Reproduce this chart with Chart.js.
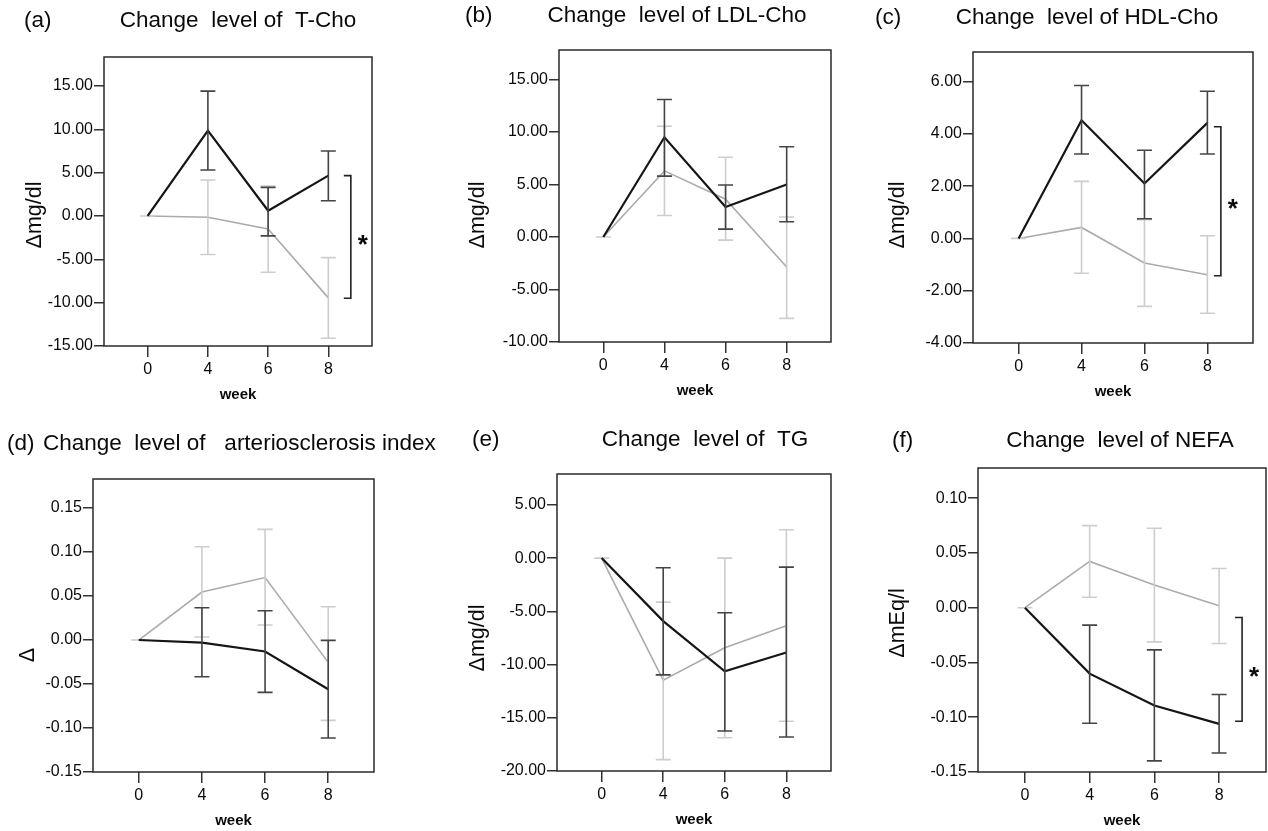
<!DOCTYPE html>
<html>
<head>
<meta charset="utf-8">
<script src="https://cdn.jsdelivr.net/npm/chart.js@4.4.1/dist/chart.umd.min.js"></script>
<style>
  html, body { margin: 0; padding: 0; background: #fff; }
  #wrap { position: relative; width: 1268px; height: 831px; overflow: hidden; background: #fff; }
  #wrap canvas { position: absolute; left: 0; top: 0; }
</style>
</head>
<body>
<div id="wrap"></div>
<script>
// week categories (x axis)
var weeks = ['0', '4', '6', '8'];

// (a) T-Cho
var tchoTicks = [-15, -10, -5, 0, 5, 10, 15];
var tchoBlack = [0, 9.85, 0.6, 4.65];
var tchoBlackHi = [null, 14.4, 3.3, 7.5];
var tchoBlackLo = [null, 5.3, -2.3, 1.75];
var tchoGrey = [0, -0.15, -1.5, -9.45];
var tchoGreyHi = [0, 4.15, 3.45, -4.8];
var tchoGreyLo = [0, -4.45, -6.5, -14.1];
var tchoBracket = [4.65, -9.5];

// (b) LDL-Cho
var ldlTicks = [-10, -5, 0, 5, 10, 15];
var ldlBlack = [0, 9.5, 2.85, 5.0];
var ldlBlackHi = [null, 13.1, 4.95, 8.6];
var ldlBlackLo = [null, 5.8, 0.75, 1.45];
var ldlGrey = [0, 6.3, 3.6, -2.85];
var ldlGreyHi = [0, 10.55, 7.6, 1.9];
var ldlGreyLo = [0, 2.05, -0.3, -7.75];

// (c) HDL-Cho
var hdlTicks = [-4, -2, 0, 2, 4, 6];
var hdlBlack = [0, 4.52, 2.1, 4.42];
var hdlBlackHi = [null, 5.85, 3.37, 5.63];
var hdlBlackLo = [null, 3.23, 0.75, 3.23];
var hdlGrey = [0, 0.42, -0.94, -1.39];
var hdlGreyHi = [0, 2.18, 0.72, 0.1];
var hdlGreyLo = [0, -1.33, -2.6, -2.86];
var hdlBracket = [4.27, -1.43];

// (d) arteriosclerosis index
var aiTicks = [-0.15, -0.10, -0.05, 0, 0.05, 0.10, 0.15];
var aiBlack = [0, -0.003, -0.013, -0.056];
var aiBlackHi = [null, 0.0367, 0.0333, -0.0004];
var aiBlackLo = [null, -0.0417, -0.0595, -0.1114];
var aiGrey = [0, 0.0545, 0.071, -0.0254];
var aiGreyHi = [0, 0.106, 0.1257, 0.0378];
var aiGreyLo = [0, 0.0034, 0.017, -0.0913];

// (e) TG
var tgTicks = [-20, -15, -10, -5, 0, 5];
var tgBlack = [0, -5.92, -10.63, -8.87];
var tgBlackHi = [null, -0.91, -5.14, -0.85];
var tgBlackLo = [null, -10.97, -16.24, -16.8];
var tgGrey = [0, -11.47, -8.43, -6.36];
var tgGreyHi = [0, -4.14, 0.0, 2.66];
var tgGreyLo = [0, -18.93, -16.87, -15.33];

// (f) NEFA
var nefaTicks = [-0.15, -0.10, -0.05, 0, 0.05, 0.10];
var nefaBlack = [0, -0.0602, -0.0893, -0.1061];
var nefaBlackHi = [null, -0.0159, -0.0385, -0.0792];
var nefaBlackLo = [null, -0.1055, -0.1398, -0.1327];
var nefaGrey = [0, 0.0422, 0.0208, 0.0018];
var nefaGreyHi = [0, 0.0749, 0.0725, 0.0358];
var nefaGreyLo = [0, 0.0095, -0.0312, -0.0327];
var nefaBracket = [-0.009, -0.1037];

var FONT = '"Liberation Sans", Arial, Helvetica, sans-serif';
var W = 1268, H = 831;
var YW = 70, XH = 58;

var panels = [
  { tag: '(a)', tagX: 24, title: 'Change  level of  T-Cho', titleX: 238, titleAlign: 'center', titleY: 21,
    box: [104, 57, 372, 346], yMax: 18.34, yMin: -15, ticks: tchoTicks, yTitle: '\u0394mg/dl', yTitleX: 35, yTitleY: 215,
    black: [tchoBlack, tchoBlackHi, tchoBlackLo], grey: [tchoGrey, tchoGreyHi, tchoGreyLo], bracket: tchoBracket, bracketDx: 22.5 },
  { tag: '(b)', tagX: 465, title: 'Change  level of LDL-Cho', titleX: 677, titleAlign: 'center', titleY: 16,
    box: [559, 50, 831, 342], yMax: 17.81, yMin: -10, ticks: ldlTicks, yTitle: '\u0394mg/dl', yTitleX: 478, yTitleY: 215,
    black: [ldlBlack, ldlBlackHi, ldlBlackLo], grey: [ldlGrey, ldlGreyHi, ldlGreyLo] },
  { tag: '(c)', tagX: 875, title: 'Change  level of HDL-Cho', titleX: 1087, titleAlign: 'center', titleY: 18,
    box: [973, 52, 1253, 343], yMax: 7.13, yMin: -4, ticks: hdlTicks, yTitle: '\u0394mg/dl', yTitleX: 898, yTitleY: 215,
    black: [hdlBlack, hdlBlackHi, hdlBlackLo], grey: [hdlGrey, hdlGreyHi, hdlGreyLo], bracket: hdlBracket, bracketDx: 13.5 },
  { tag: '(d)', tagX: 7, title: 'Change  level of   arteriosclerosis index', titleX: 43, titleAlign: 'left', titleY: 444,
    box: [93, 479, 374, 772], yMax: 0.183, yMin: -0.15, ticks: aiTicks, yTitle: '\u0394', yTitleX: 28, yTitleY: 655,
    black: [aiBlack, aiBlackHi, aiBlackLo], grey: [aiGrey, aiGreyHi, aiGreyLo] },
  { tag: '(e)', tagX: 472, title: 'Change  level of  TG', titleX: 705, titleAlign: 'center', titleY: 440,
    box: [557, 474, 831, 771], yMax: 7.9, yMin: -20, ticks: tgTicks, yTitle: '\u0394mg/dl', yTitleX: 478, yTitleY: 638,
    black: [tgBlack, tgBlackHi, tgBlackLo], grey: [tgGrey, tgGreyHi, tgGreyLo] },
  { tag: '(f)', tagX: 892, title: 'Change  level of NEFA', titleX: 1120, titleAlign: 'center', titleY: 441,
    box: [978, 468, 1266, 772], yMax: 0.1275, yMin: -0.15, ticks: nefaTicks, yTitle: '\u0394mEq/l', yTitleX: 898, yTitleY: 623,
    black: [nefaBlack, nefaBlackHi, nefaBlackLo], grey: [nefaGrey, nefaGreyHi, nefaGreyLo], bracket: nefaBracket, bracketDx: 23 }
];

function points(vals) {
  return vals.map(function(v, i) { return { x: i, y: v }; });
}

function makePanel(p) {
  var wrap = document.getElementById('wrap');
  var cv = document.createElement('canvas');
  cv.width = W; cv.height = H;
  cv.style.width = W + 'px'; cv.style.height = H + 'px';
  wrap.appendChild(cv);

  var decor = {
    id: 'decor',
    afterDatasetDraw: function(chart, args) {
      var ds = chart.data.datasets[args.index];
      var ys = chart.scales.y, ctx = chart.ctx;
      ctx.save();
      ctx.strokeStyle = ds.errColor;
      ctx.lineWidth = 1.6;
      ds.errHi.forEach(function(hi, i) {
        var lo = ds.errLo[i];
        if (hi == null || lo == null) return;
        var px = args.meta.data[i].x;
        var ph = ys.getPixelForValue(hi), pl = ys.getPixelForValue(lo);
        ctx.beginPath();
        ctx.moveTo(px, ph); ctx.lineTo(px, pl);
        ctx.moveTo(px - 7.5, ph); ctx.lineTo(px + 7.5, ph);
        ctx.moveTo(px - 7.5, pl); ctx.lineTo(px + 7.5, pl);
        ctx.stroke();
      });
      ctx.restore();
    },
    afterDraw: function(chart) {
      var ctx = chart.ctx, ca = chart.chartArea;
      var xs = chart.scales.x, ys = chart.scales.y;
      ctx.save();
      // plot frame
      ctx.strokeStyle = '#2a2a2a';
      ctx.lineWidth = 1.5;
      ctx.strokeRect(ca.left, ca.top, ca.right - ca.left, ca.bottom - ca.top);

      // panel tag and title
      ctx.fillStyle = '#0a0a0a';
      ctx.font = '22.5px ' + FONT;
      ctx.textBaseline = 'middle';
      ctx.textAlign = 'left';
      ctx.fillText(p.tag, p.tagX, p.titleY);
      ctx.textAlign = p.titleAlign;
      ctx.fillText(p.title, p.titleX, p.titleY);

      // y axis title
      ctx.save();
      ctx.translate(p.yTitleX, p.yTitleY);
      ctx.rotate(-Math.PI / 2);
      ctx.textAlign = 'center';
      ctx.font = '21.5px ' + FONT;
      ctx.fillText(p.yTitle, 0, 0);
      ctx.restore();

      // significance bracket
      if (p.bracket) {
        var bx = xs.getPixelForValue(3) + p.bracketDx;
        var bt = ys.getPixelForValue(p.bracket[0]);
        var bb = ys.getPixelForValue(p.bracket[1]);
        ctx.strokeStyle = '#222';
        ctx.lineWidth = 1.6;
        ctx.beginPath();
        ctx.moveTo(bx - 7, bt); ctx.lineTo(bx, bt); ctx.lineTo(bx, bb); ctx.lineTo(bx - 7, bb);
        ctx.stroke();
        ctx.font = 'bold 26px ' + FONT;
        ctx.textAlign = 'center';
        ctx.textBaseline = 'alphabetic';
        var m = ctx.measureText('*');
        var cy = (bt + bb) / 2 + 3;
        var base = cy + (m.actualBoundingBoxAscent - m.actualBoundingBoxDescent) / 2;
        ctx.fillText('*', bx + 12, base);
      }
      ctx.restore();
    }
  };

  new Chart(cv, {
    type: 'line',
    data: {
      datasets: [
        { data: points(p.black[0]), errHi: p.black[1], errLo: p.black[2], errColor: '#444',
          borderColor: '#151515', borderWidth: 2.2, pointRadius: 0, tension: 0, fill: false },
        { data: points(p.grey[0]), errHi: p.grey[1], errLo: p.grey[2], errColor: '#cdcdcd',
          borderColor: '#ababab', borderWidth: 1.6, pointRadius: 0, tension: 0, fill: false }
      ]
    },
    options: {
      responsive: false,
      animation: false,
      devicePixelRatio: 1,
      events: [],
      layout: {
        padding: { left: p.box[0] - YW, top: p.box[1], right: W - p.box[2], bottom: H - p.box[3] - XH }
      },
      plugins: { legend: { display: false }, tooltip: { enabled: false }, title: { display: false } },
      scales: {
        x: {
          type: 'linear', min: -0.725, max: 3.725,
          afterFit: function(s) { s.height = XH; },
          afterBuildTicks: function(s) { s.ticks = weeks.map(function(w, i) { return { value: i }; }); },
          ticks: { callback: function(v) { return weeks[v]; }, color: '#0a0a0a', padding: 3,
                   font: { family: FONT, size: 16 }, maxRotation: 0, autoSkip: false },
          grid: { drawOnChartArea: false, tickLength: 11, color: '#333', lineWidth: 1.5 },
          border: { display: false },
          title: { display: true, text: 'week', color: '#0a0a0a', padding: { top: 0, bottom: 0 },
                   font: { family: FONT, size: 15, weight: 'bold' } }
        },
        y: {
          type: 'linear', min: p.yMin, max: p.yMax,
          afterFit: function(s) { s.width = YW; },
          afterBuildTicks: function(s) { s.ticks = p.ticks.map(function(v) { return { value: v }; }); },
          ticks: { callback: function(v) { return Number(v).toFixed(2); }, color: '#0a0a0a', padding: 1,
                   font: { family: FONT, size: 16 }, autoSkip: false },
          grid: { drawOnChartArea: false, tickLength: 10, color: '#333', lineWidth: 1.5 },
          border: { display: false }
        }
      }
    },
    plugins: [decor]
  });
}

panels.forEach(makePanel);
</script>
</body>
</html>
